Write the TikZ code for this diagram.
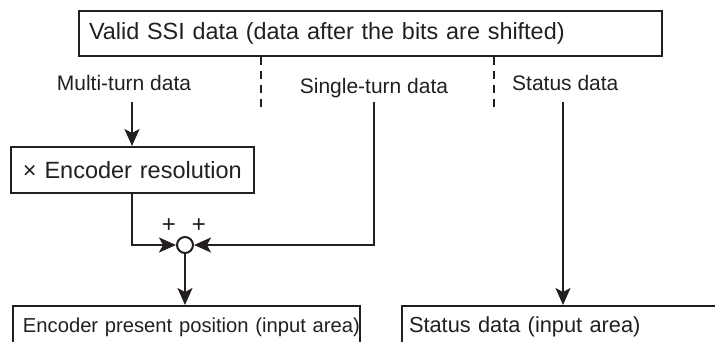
\documentclass[tikz,border=0pt]{standalone}
\usepackage{fontspec}
\setmainfont{Liberation Sans}
\usetikzlibrary{arrows.meta}
\definecolor{ink}{RGB}{35,31,32}
\begin{document}
\begin{tikzpicture}[x=1pt,y=-1pt,
  every node/.style={text=ink},
  box/.style={draw=ink, line width=2pt, inner sep=0pt, align=left},
  conn/.style={draw=ink, line width=2pt, -{Stealth[length=17pt,width=15pt,inset=4pt]}},
  dashline/.style={draw=ink, line width=1.5pt, dash pattern=on 8pt off 6pt},
  lbl/.style={inner sep=0pt, font=\fontsize{21}{24}\selectfont},
  plus/.style={inner sep=0pt, font=\fontsize{24}{24}\selectfont}]
\useasboundingbox (0,0) rectangle (715,341);
\clip (0,0) rectangle (715,341);
% top box
\node[box, anchor=north west, minimum height=45pt, text width=563pt, inner xsep=10pt,
      font=\fontsize{23.4}{28}\selectfont] (ssi) at (78,10) {\mbox{Valid SSI data (data after the bits are shifted)}};
% dashed separators
\coordinate (d1) at (261,108);
\coordinate (d2) at (494,108);
\draw[dashline] (ssi.south -| d1) -- (d1);
\draw[dashline] (ssi.south -| d2) -- (d2);
% labels
\node[lbl] (multi) at (124,83) {Multi-turn data};
\node[lbl] (single) at (374,88) {Single-turn data};
\node[lbl, anchor=west] (stat) at (512,83) {Status data};
% encoder resolution box
\node[box, anchor=north west, minimum height=46pt, text width=219pt, inner xsep=12pt,
      font=\fontsize{23.5}{27}\selectfont] (enc) at (10,146) {\mbox{× Encoder resolution}};
% summing junction
\node[draw=ink, circle, line width=2pt, minimum size=16pt, inner sep=0pt, fill=white] (sum) at (185,245) {};
\node[plus] (p1) at (169,226) {+};
\node[plus] (p2) at (199,226) {+};
% bottom boxes
\node[box, anchor=north west, text width=327pt, inner xsep=10pt, inner ysep=11pt,
      text height=15pt, text depth=5pt, font=\fontsize{20.2}{23}\selectfont] (epp) at (12,305) {\mbox{Encoder present position (input area)}};
\node[box, anchor=north west, text width=340pt, inner xsep=7pt, inner ysep=11pt,
      text height=15pt, text depth=5pt, font=\fontsize{21.8}{24}\selectfont] (sdi) at (401,305) {\mbox{Status data (input area)}};
% connectors
\coordinate (mtop) at (132,102);
\coordinate (stop) at (374,102);
\coordinate (sttop) at (563,102);
\draw[conn] (mtop) -- (enc.north -| mtop);
\draw[conn] (enc.south -| mtop) |- (sum.west);
\draw[conn] (stop) |- (sum.east);
\draw[conn] (sum.south) -- (epp.north -| sum.south);
\draw[conn] (sttop) -- (sdi.north -| sttop);
\end{tikzpicture}
\end{document}
